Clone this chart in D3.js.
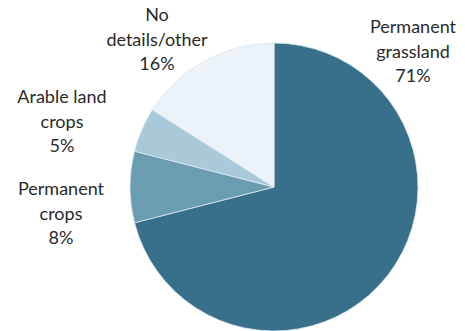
<!DOCTYPE html>
<html>
<head>
<meta charset="utf-8">
<script src="https://cdn.jsdelivr.net/npm/d3@7"></script>
<style>
  body { margin: 0; background: #fff; }
  svg text { font-family: Lato, 'Open Sans', sans-serif; font-size: 18px; fill: #2a2a2a; }
</style>
</head>
<body>
<svg width="465" height="331"></svg>
<script>
const categories = ['Permanent grassland', 'Permanent crops', 'Arable land crops', 'No details/other'];
const shares = [71, 8, 5, 16];
const labelLines = [
    ['Permanent', 'grassland', '71%'],
    ['Permanent', 'crops', '8%'],
    ['Arable land', 'crops', '5%'],
    ['No', 'details/other', '16%']
];
const colours = ['#386f8b', '#6b9db1', '#a8cad8', '#ebf2f8'];

const svg = d3.select('svg');
const cx = 274, cy = 187, radius = 144;

// where each label block sits (x centre, first baseline)
const labelPos = [
    { x: 413, y: 33 },
    { x: 61, y: 195 },
    { x: 62, y: 103 },
    { x: 157, y: 21 }
];
const lineStep = 24.5;

const data = categories.map((c, i) => ({ name: c, value: shares[i] }));

const pie = d3.pie()
    .sort(null)
    .value(d => d.value);

const arc = d3.arc()
    .innerRadius(0)
    .outerRadius(radius);

const color = d3.scaleOrdinal()
    .domain(categories)
    .range(colours);

const g = svg.append('g')
    .attr('transform', `translate(${cx},${cy})`);

g.selectAll('path').data(pie(data))
    .enter().append('path')
        .attr('d', arc)
        .attr('fill', d => color(d.data.name))
        .attr('stroke', '#dce8ef')
        .attr('stroke-width', 0.8);

const labels = svg.selectAll('text.label').data(data)
    .enter().append('text')
        .attr('class', 'label')
        .attr('text-anchor', 'middle');

labels.each(function(d, i) {
    const t = d3.select(this);
    labelLines[i].forEach((line, k) => {
        t.append('tspan')
            .attr('x', labelPos[i].x)
            .attr('y', labelPos[i].y + k * lineStep)
            .text(line);
    });
});
</script>
</body>
</html>
